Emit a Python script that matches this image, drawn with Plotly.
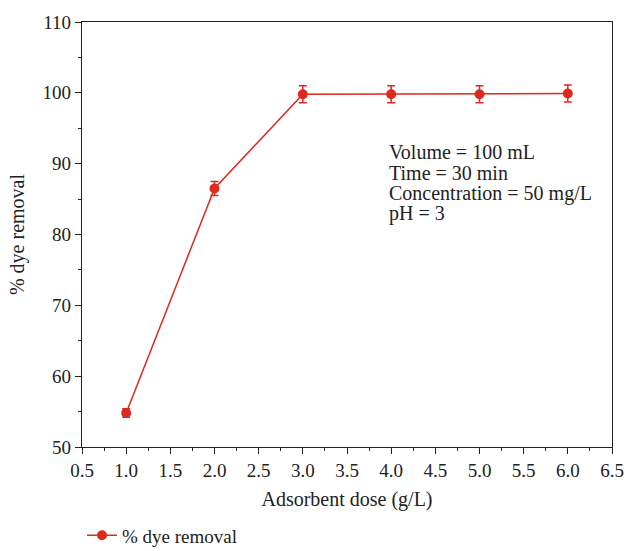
import plotly.graph_objects as go

dose = [1.0, 2.0, 3.0, 4.0, 5.0, 6.0]
removal = [54.8, 86.5, 99.8, 99.8, 99.8, 99.9]
err = [0.6, 1.0, 1.2, 1.2, 1.2, 1.2]
x_ticks = [0.5, 1.0, 1.5, 2.0, 2.5, 3.0, 3.5, 4.0, 4.5, 5.0, 5.5, 6.0, 6.5]
y_ticks = [50, 60, 70, 80, 90, 100, 110]
note_lines = ["Volume = 100 mL", "Time = 30 min", "Concentration = 50 mg/L", "pH = 3"]

red = "#dc2a1e"
font = "Liberation Serif, Times New Roman, serif"
fsize = 19

fig = go.Figure()
fig.add_trace(go.Scatter(
    x=dose, y=removal, mode="lines+markers", name="% dye removal",
    line=dict(color=red, width=1.5),
    marker=dict(color=red, size=10),
    error_y=dict(type="data", array=err, visible=True, color=red, thickness=1.5, width=4),
))

for i, line in enumerate(note_lines):
    fig.add_annotation(
        x=3.95, y=91.65, xref="x", yref="y", xanchor="left", yanchor="middle",
        yshift=-20.6 * i,
        text=line, showarrow=False, align="left",
        font=dict(family=font, size=20, color="#222"),
    )

axis_common = dict(
    showgrid=False, zeroline=False, showline=True, linecolor="#222", linewidth=1.2,
    mirror=True, ticks="outside", ticklen=6, tickwidth=1.2, tickcolor="#222",
    tickfont=dict(family=font, size=fsize, color="#222"), automargin=False,
)
fig.update_xaxes(
    range=[0.5, 6.5], tickvals=x_ticks, ticktext=[f"{v:.1f}" for v in x_ticks],
    minor=dict(ticks="outside", ticklen=3, dtick=0.25, tick0=0.5, tickcolor="#222", tickwidth=1.2),
    title=dict(text="Adsorbent dose (g/L)", font=dict(family=font, size=20, color="#222"), standoff=12),
    **axis_common,
)
fig.update_yaxes(
    range=[50, 110], tickvals=y_ticks,
    minor=dict(ticks="outside", ticklen=3, dtick=5, tick0=50, tickcolor="#222", tickwidth=1.2),
    title=dict(text="% dye removal", font=dict(family=font, size=20, color="#222"), standoff=12),
    **axis_common,
)
fig.update_layout(
    width=627, height=551,
    margin=dict(l=82, r=15, t=22, b=104, autoexpand=False),
    plot_bgcolor="white", paper_bgcolor="white",
    showlegend=True,
    legend=dict(x=0.0, y=-0.208, xanchor="left", yanchor="middle",
                font=dict(family=font, size=fsize, color="#222"), bgcolor="rgba(0,0,0,0)"),
)
fig.write_html("out.html")
